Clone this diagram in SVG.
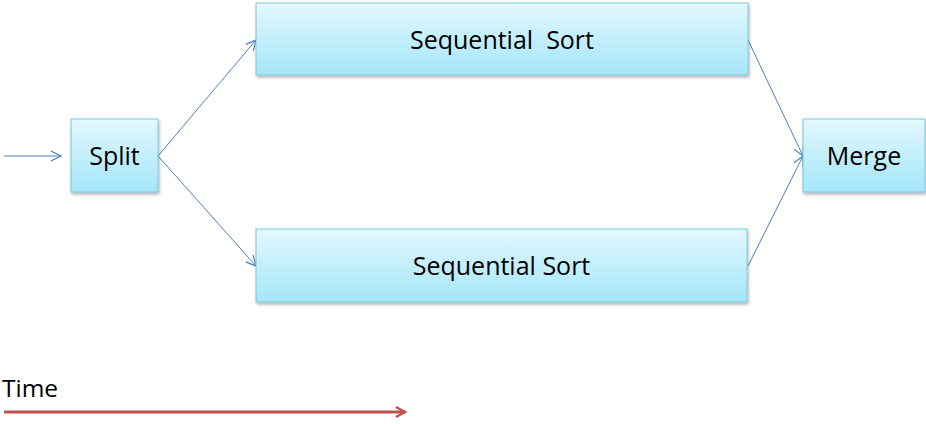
<svg xmlns="http://www.w3.org/2000/svg" width="926" height="424" viewBox="0 0 926 424">
  <defs>
    <linearGradient id="boxFill" x1="0" y1="0" x2="0" y2="1">
      <stop offset="0" stop-color="#e3f8fe"/>
      <stop offset="1" stop-color="#a4e6f9"/>
    </linearGradient>
    <filter id="shadow" x="-10%" y="-10%" width="120%" height="130%">
      <feDropShadow dx="1" dy="2" stdDeviation="1.5" flood-color="#000" flood-opacity="0.3"/>
    </filter>
    <marker id="blueHead" viewBox="0 0 12 12" refX="11" refY="6" markerWidth="12" markerHeight="12" markerUnits="userSpaceOnUse" orient="auto">
      <path d="M1,1 L11,6 L1,11" fill="none" stroke="#4f81bd" stroke-width="1.2"/>
    </marker>
    <marker id="redHead" viewBox="0 0 12 12" refX="10" refY="6" markerWidth="12" markerHeight="12" markerUnits="userSpaceOnUse" orient="auto">
      <path d="M1,1 L10,6 L1,11" fill="none" stroke="#c0504d" stroke-width="2.2"/>
    </marker>
  </defs>
  <style>
    .box { fill: url(#boxFill); stroke: #7fc6da; stroke-width: 1; filter: url(#shadow); }
    .label { font-family: "Open Sans", "Liberation Sans", sans-serif; font-size: 25px; fill: #000; text-anchor: middle; }
    .link { fill: none; stroke: #4f81bd; stroke-width: 1; marker-end: url(#blueHead); }
  </style>

  <g id="connectors">
    <line class="link" x1="4" y1="156" x2="61" y2="156"/>
    <line class="link" x1="158" y1="156" x2="256" y2="40"/>
    <line class="link" x1="158" y1="156" x2="256" y2="266"/>
    <line class="link" x1="748" y1="40" x2="803" y2="156"/>
    <line class="link" x1="748" y1="266" x2="803" y2="156"/>
  </g>

  <g id="split">
    <rect class="box" x="71" y="119" width="87" height="73"/>
    <text class="label" x="114.5" y="165">Split</text>
  </g>

  <g id="sort-top">
    <rect class="box" x="256" y="3" width="492" height="72"/>
    <text class="label" x="502" y="49" xml:space="preserve">Sequential  Sort</text>
  </g>

  <g id="sort-bottom">
    <rect class="box" x="256" y="229" width="491" height="73"/>
    <text class="label" x="501.5" y="275">Sequential Sort</text>
  </g>

  <g id="merge">
    <rect class="box" x="803" y="119" width="122" height="73"/>
    <text class="label" x="864" y="165">Merge</text>
  </g>

  <g id="time-axis">
    <text x="2" y="397" font-family="'Open Sans', 'Liberation Sans', sans-serif" font-size="24.5" fill="#000">Time</text>
    <line x1="4" y1="412" x2="405" y2="412" stroke="#c0504d" stroke-width="3" marker-end="url(#redHead)"/>
  </g>
</svg>
